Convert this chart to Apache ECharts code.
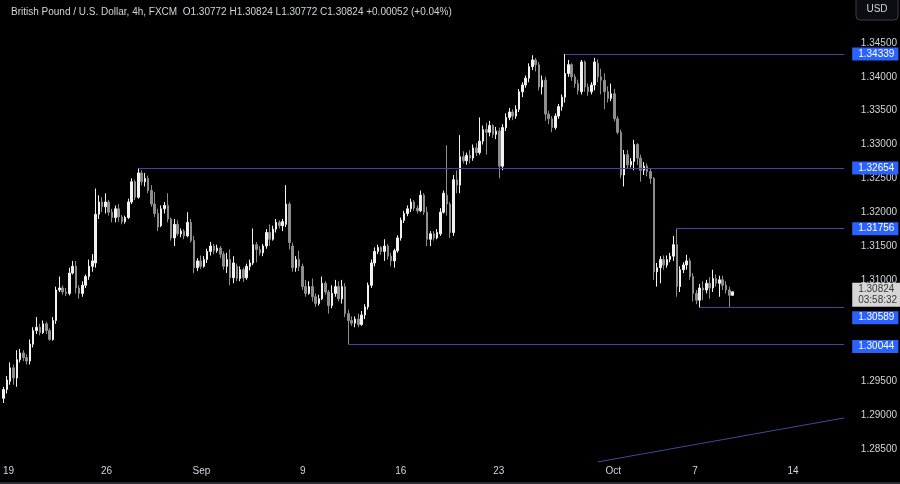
<!DOCTYPE html>
<html><head><meta charset="utf-8">
<script src="https://cdn.jsdelivr.net/npm/echarts/dist/echarts.min.js"></script>
<style>html,body{margin:0;padding:0;background:#000;}#c{width:900px;height:484px;}</style>
</head><body><div id="c"></div>
<script>
// ---- data (GBP/USD 4h, FXCM) ----
const opens = [
1.2925,1.2938,1.2950,1.2970,1.2955,1.2982,1.2992,1.2985,1.2980,1.3005,
1.3025,1.3030,1.3022,1.3035,1.3025,1.3012,1.3040,1.3085,1.3088,1.3082,
1.3080,1.3110,1.3120,1.3088,1.3080,1.3092,1.3105,1.3120,1.3125,1.3197,
1.3215,1.3208,1.3215,1.3200,1.3192,1.3205,1.3193,1.3186,1.3192,1.3215,
1.3245,1.3222,1.3258,1.3245,1.3250,1.3232,1.3212,1.3198,1.3180,1.3205,
1.3210,1.3190,1.3162,1.3182,1.3168,1.3172,1.3165,1.3185,1.3158,1.3118,
1.3128,1.3120,1.3130,1.3142,1.3150,1.3143,1.3147,1.3138,1.3120,1.3130,
1.3103,1.3120,1.3102,1.3115,1.3103,1.3120,1.3125,1.3152,1.3145,1.3140,
1.3150,1.3170,1.3160,1.3175,1.3185,1.3180,1.3182,1.3212,1.3150,1.3118,
1.3130,1.3120,1.3090,1.3080,1.3090,1.3075,1.3065,1.3072,1.3095,1.3082,
1.3062,1.3080,1.3090,1.3072,1.3090,1.3050,1.3040,1.3036,1.3042,1.3034,
1.3048,1.3060,1.3092,1.3125,1.3142,1.3148,1.3142,1.3150,1.3135,1.3128,
1.3143,1.3162,1.3188,1.3198,1.3205,1.3215,1.3206,1.3202,1.3225,1.3200,
1.3160,1.3168,1.3162,1.3168,1.3200,1.3225,1.3212,1.3170,1.3248,1.3240,
1.3282,1.3276,1.3284,1.3280,1.3295,1.3288,1.3305,1.3322,1.3318,1.3328,
1.3315,1.3320,1.3268,1.3325,1.3340,1.3348,1.3342,1.3352,1.3378,1.3388,
1.3398,1.3415,1.3425,1.3418,1.3385,1.3395,1.3345,1.3338,1.3325,1.3342,
1.3356,1.3370,1.3405,1.3418,1.3400,1.3390,1.3378,1.3422,1.3385,1.3378,
1.3388,1.3420,1.3400,1.3395,1.3378,1.3368,1.3375,1.3338,1.3318,1.3255,
1.3285,1.3270,1.3275,1.3300,1.3280,1.3262,1.3268,1.3260,1.3250,1.3112,
1.3118,1.3130,1.3122,1.3130,1.3135,1.3152,1.3090,1.3115,1.3122,1.3128,
1.3105,1.3080,1.3070,1.3088,1.3085,1.3095,1.3088,1.3102,1.3095,1.3100,
1.3092,1.3085,1.30772];
const closes = [
1.2938,1.2952,1.2970,1.2955,1.2982,1.2992,1.2985,1.2980,1.3005,1.3025,
1.3030,1.3022,1.3035,1.3025,1.3012,1.3040,1.3085,1.3088,1.3082,1.3080,
1.3110,1.3120,1.3088,1.3080,1.3092,1.3105,1.3120,1.3128,1.3197,1.3215,
1.3208,1.3215,1.3200,1.3192,1.3205,1.3193,1.3186,1.3192,1.3215,1.3245,
1.3222,1.3258,1.3245,1.3250,1.3232,1.3212,1.3198,1.3178,1.3205,1.3210,
1.3190,1.3162,1.3182,1.3168,1.3172,1.3165,1.3185,1.3158,1.3118,1.3128,
1.3120,1.3130,1.3142,1.3150,1.3143,1.3147,1.3138,1.3120,1.3130,1.3103,
1.3125,1.3102,1.3115,1.3103,1.3120,1.3125,1.3152,1.3145,1.3140,1.3150,
1.3170,1.3160,1.3175,1.3185,1.3180,1.3186,1.3212,1.3155,1.3118,1.3130,
1.3120,1.3090,1.3080,1.3090,1.3075,1.3065,1.3072,1.3095,1.3082,1.3062,
1.3080,1.3090,1.3072,1.3090,1.3050,1.3040,1.3036,1.3042,1.3034,1.3048,
1.3060,1.3092,1.3125,1.3142,1.3148,1.3142,1.3150,1.3135,1.3128,1.3143,
1.3162,1.3188,1.3198,1.3205,1.3215,1.3206,1.3202,1.3225,1.3200,1.3160,
1.3168,1.3162,1.3170,1.3200,1.3228,1.3212,1.3170,1.3248,1.3240,1.3282,
1.3276,1.3284,1.3280,1.3295,1.3288,1.3305,1.3322,1.3318,1.3328,1.3315,
1.3320,1.3268,1.3325,1.3340,1.3348,1.3342,1.3352,1.3378,1.3388,1.3398,
1.3415,1.3425,1.3418,1.3385,1.3395,1.3345,1.3338,1.3325,1.3342,1.3356,
1.3370,1.3405,1.3418,1.3400,1.3390,1.3380,1.3422,1.3385,1.3378,1.3388,
1.3422,1.3400,1.3395,1.3378,1.3368,1.3375,1.3338,1.3318,1.3255,1.3285,
1.3270,1.3275,1.3300,1.3280,1.3262,1.3268,1.3260,1.3250,1.3112,1.3118,
1.3130,1.3122,1.3130,1.3135,1.3152,1.3090,1.3115,1.3122,1.3128,1.3105,
1.3080,1.3070,1.3088,1.3085,1.3095,1.3088,1.3102,1.3095,1.3100,1.3092,
1.3085,1.30772,1.30824];
const lows = [
1.2918,1.2932,1.2945,1.2945,1.2942,1.2978,1.2980,1.2975,1.2975,1.3000,
1.3020,1.3018,1.3020,1.3020,1.3010,1.3010,1.3035,1.3082,1.3078,1.3076,
1.3077,1.3108,1.3080,1.3072,1.3075,1.3088,1.3100,1.3112,1.3118,1.3190,
1.3200,1.3198,1.3195,1.3185,1.3185,1.3186,1.3182,1.3183,1.3190,1.3212,
1.3218,1.3220,1.3240,1.3238,1.3228,1.3208,1.3193,1.3172,1.3178,1.3198,
1.3185,1.3158,1.3150,1.3165,1.3163,1.3160,1.3163,1.3155,1.3110,1.3113,
1.3116,1.3118,1.3125,1.3136,1.3138,1.3140,1.3132,1.3115,1.3110,1.3092,
1.3095,1.3098,1.3098,1.3097,1.3100,1.3114,1.3122,1.3126,1.3136,1.3135,
1.3146,1.3150,1.3158,1.3170,1.3176,1.3172,1.3178,1.3145,1.3112,1.3112,
1.3113,1.3085,1.3075,1.3078,1.3068,1.3060,1.3062,1.3070,1.3078,1.3050,
1.3058,1.3075,1.3068,1.3065,1.3045,1.30044,1.3032,1.3030,1.3030,1.3032,
1.3042,1.3056,1.3088,1.3120,1.3138,1.3137,1.3128,1.3130,1.3120,1.3118,
1.3140,1.3158,1.3184,1.3194,1.3200,1.3202,1.3198,1.3200,1.3196,1.3150,
1.3150,1.3158,1.3160,1.3165,1.3198,1.3195,1.3162,1.3165,1.3228,1.3228,
1.3272,1.3270,1.3272,1.3276,1.3283,1.3285,1.3300,1.3285,1.3312,1.3310,
1.3308,1.3250,1.3262,1.3320,1.3336,1.3336,1.3338,1.3348,1.3370,1.3384,
1.3392,1.3410,1.3408,1.3380,1.3374,1.3335,1.3330,1.3318,1.3322,1.3338,
1.3350,1.3362,1.3400,1.3394,1.3384,1.3374,1.3374,1.3378,1.3372,1.3374,
1.3380,1.3392,1.3374,1.3352,1.3362,1.3364,1.3334,1.3315,1.3250,1.3238,
1.3265,1.3266,1.3262,1.3270,1.3245,1.3255,1.3253,1.3242,1.3100,1.3090,
1.3095,1.3115,1.3118,1.3126,1.3128,1.3075,1.3082,1.3110,1.3115,1.3100,
1.3068,1.3064,1.30589,1.3070,1.3080,1.3072,1.3082,1.3090,1.3075,1.3085,
1.3080,1.30589,1.30772];
const highs = [
1.2942,1.2958,1.2978,1.2975,1.2996,1.2998,1.2996,1.2990,1.3012,1.3030,
1.3045,1.3035,1.3040,1.3038,1.3028,1.3045,1.3090,1.3105,1.3092,1.3088,
1.3118,1.3128,1.3128,1.3092,1.3098,1.3108,1.3130,1.3138,1.3235,1.3225,
1.3222,1.3228,1.3218,1.3205,1.3210,1.3212,1.3196,1.3195,1.3220,1.3250,
1.3248,1.32654,1.3262,1.3258,1.3254,1.3240,1.3230,1.3205,1.3210,1.3215,
1.3228,1.3192,1.3190,1.3188,1.3176,1.3175,1.3200,1.3190,1.3165,1.3132,
1.3136,1.3135,1.3146,1.3156,1.3153,1.3152,1.3150,1.3142,1.3140,1.3145,
1.3135,1.3124,1.3120,1.3118,1.3124,1.3130,1.3176,1.3156,1.3150,1.3153,
1.3175,1.3182,1.3180,1.3190,1.3188,1.3190,1.3240,1.3215,1.3155,1.3135,
1.3143,1.3124,1.3100,1.3098,1.3102,1.3080,1.3078,1.3105,1.3098,1.3085,
1.3092,1.3100,1.3098,1.3100,1.3095,1.3056,1.3046,1.3046,1.3050,1.3054,
1.3064,1.3096,1.3130,1.3148,1.3152,1.3150,1.3160,1.3153,1.3140,1.3146,
1.3166,1.3192,1.3202,1.3210,1.3220,1.3218,1.3210,1.3232,1.3228,1.3208,
1.3172,1.3172,1.3175,1.3206,1.3232,1.3299,1.3215,1.3255,1.3262,1.3314,
1.3290,1.3288,1.3292,1.3300,1.3302,1.3340,1.3328,1.3332,1.3335,1.3330,
1.3326,1.3325,1.3330,1.3346,1.3354,1.3352,1.3358,1.3382,1.3392,1.3402,
1.3420,1.3432,1.3428,1.3422,1.3402,1.3400,1.3350,1.3342,1.3346,1.3360,
1.3374,1.34339,1.3425,1.3420,1.3404,1.3396,1.3425,1.3424,1.3390,1.3392,
1.3428,1.3426,1.3412,1.3405,1.3386,1.3390,1.3382,1.3342,1.3322,1.3292,
1.3292,1.3280,1.3307,1.3302,1.3285,1.3274,1.3272,1.3264,1.3252,1.3125,
1.3135,1.3136,1.3136,1.3140,1.3165,1.31756,1.3120,1.3126,1.3137,1.3132,
1.3110,1.3085,1.3094,1.3098,1.3100,1.3104,1.3115,1.3108,1.3106,1.3106,
1.3098,1.3090,1.30824];

const totalSlots = 257;                       // bar slots incl. empty future space
const tickBars   = [0, 30, 59, 90, 120, 150, 185, 210, 240];
const tickLabels = ['19', '26', 'Sep', '9', '16', '23', 'Oct', '7', '14'];
const yTickLabels = ['1.34500','1.34000','1.33500','1.33000','1.32500','1.32000','1.31500','1.31000','1.29500','1.29000','1.28500'];
const levelPrices    = [1.34339, 1.32654, 1.31756, 1.30589, 1.30044];
const levelStartBars = [171, 41, 205, 212, 105];
const trendBars   = [181, 256];
const trendPrices = [1.2831, 1.2896];
const lastPrice = 1.30824;
const countdown = '03:58:32';
const titleText = 'British Pound / U.S. Dollar, 4h, FXCM  O1.30772 H1.30824 L1.30772 C1.30824 +0.00052 (+0.04%)';

// ---- chart ----
const FONT = 'Liberation Sans, Arial, sans-serif';
const LINE = '#3b4a9e';
const BLUE = '#2962ff';
const TXT = '#d1d4dc';
const cats = Array.from({length: totalSlots}, (_, i) => String(i));
const candles = opens.map((o, i) => [o, closes[i], lows[i], highs[i]]);

const levelLabelOffset = {3: [0, 10], 4: [0, 2]};
const markData = levelPrices.map((p, k) => [
  {coord: [levelStartBars[k], p],
   label: {show: true, position: 'end', distance: 8, formatter: p.toFixed(5),
           backgroundColor: BLUE, color: '#ffffff', fontSize: 10, fontFamily: FONT,
           padding: [2, 4, 1, 6], offset: levelLabelOffset[k] || [0, 0]}},
  {coord: [totalSlots - 1, p]}
]);
markData.push([
  {coord: [trendBars[0], trendPrices[0]], label: {show: false}},
  {coord: [trendBars[1], trendPrices[1]]}
]);
markData.push([
  {coord: [opens.length - 1, lastPrice], lineStyle: {color: 'rgba(0,0,0,0)', width: 0},
   label: {show: true, position: 'end', distance: 8,
           formatter: lastPrice.toFixed(5) + '\n' + countdown,
           backgroundColor: '#d6d6d6', color: '#3a3a3a', fontSize: 10, fontFamily: FONT,
           lineHeight: 11, padding: [1, 4, 1, 6], offset: [0, 3]}},
  {coord: [totalSlots - 1, lastPrice]}
]);

const chart = echarts.init(document.getElementById('c'), null, {renderer: 'canvas'});
chart.setOption({
  animation: false,
  backgroundColor: '#000000',
  title: {text: titleText, left: 6, top: 2,
          textStyle: {color: TXT, fontSize: 10, fontWeight: 'normal', fontFamily: FONT}},
  grid: [
    {left: 2, right: 53, top: 9.17, height: 473.7},
    {left: 2, right: 53, top: 462, height: 1}
  ],
  xAxis: [
    {type: 'category', gridIndex: 0, data: cats, boundaryGap: true,
     axisLine: {show: false}, axisTick: {show: false}, axisLabel: {show: false}, splitLine: {show: false}},
    {type: 'category', gridIndex: 1, data: cats, boundaryGap: true,
     axisLine: {show: false}, axisTick: {show: false}, splitLine: {show: false},
     axisLabel: {show: true, color: TXT, fontSize: 10, fontFamily: FONT, margin: 3,
       interval: (idx) => tickBars.indexOf(idx) >= 0,
       formatter: (v) => { const k = tickBars.indexOf(Number(v)); return k >= 0 ? tickLabels[k] : ''; }}}
  ],
  yAxis: [
    {type: 'value', gridIndex: 0, position: 'right', min: 1.28, max: 1.35, interval: 0.005, scale: true,
     axisLine: {show: false}, axisTick: {show: false}, splitLine: {show: false},
     axisLabel: {color: TXT, fontSize: 10, fontFamily: FONT, margin: 15,
       formatter: (v) => { const s = v.toFixed(5); return yTickLabels.indexOf(s) >= 0 ? s : ''; }}},
    {type: 'value', gridIndex: 1, show: false}
  ],
  series: [{
    type: 'candlestick', xAxisIndex: 0, yAxisIndex: 0,
    data: candles, barWidth: 2, clip: false,
    itemStyle: {color: '#f2f2f2', color0: '#8e8e8e', borderColor: '#f2f2f2', borderColor0: '#8e8e8e', borderWidth: 1},
    markLine: {silent: true, symbol: ['none', 'none'], animation: false,
      lineStyle: {color: LINE, width: 1, type: 'solid'},
      label: {show: false},
      data: markData}
  }],
  graphic: [
    {type: 'rect', shape: {x: 856, y: -5, width: 42, height: 25, r: 4},
     style: {fill: '#0b0d12', stroke: '#3a3e48', lineWidth: 1}},
    {type: 'text', x: 877, y: 9, style: {text: 'USD', fill: TXT, fontSize: 10, fontFamily: FONT, textAlign: 'center', textVerticalAlign: 'middle'}},
    {type: 'rect', shape: {x: 0, y: 482, width: 900, height: 2}, style: {fill: '#2a2e39'}}
  ]
});
</script></body></html>
